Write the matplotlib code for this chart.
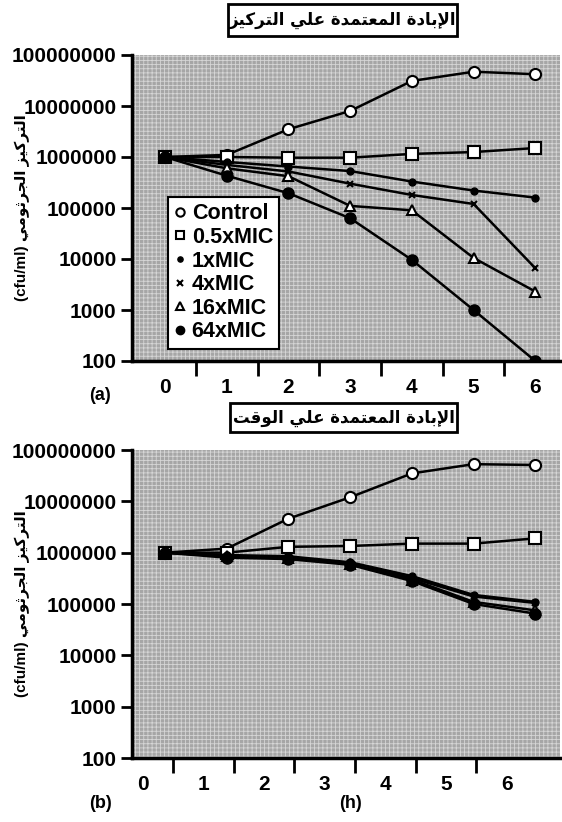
import matplotlib
matplotlib.use("Agg")
import matplotlib.pyplot as plt
from matplotlib.lines import Line2D
from matplotlib.patches import Rectangle

# --- Data ---
hours = [0, 1, 2, 3, 4, 5, 6]
series_names = ["Control", "0.5xMIC", "1xMIC", "4xMIC", "16xMIC", "64xMIC"]

# (a) concentration dependent killing
a_control = [1e6, 1.1e6, 3.5e6, 8e6, 3.1e7, 4.7e7, 4.2e7]
a_half = [1e6, 1e6, 9.7e5, 9.7e5, 1.15e6, 1.25e6, 1.5e6]
a_1x = [1e6, 8e5, 6.5e5, 5.3e5, 3.3e5, 2.2e5, 1.6e5]
a_4x = [1e6, 7e5, 5.2e5, 3e5, 1.8e5, 1.2e5, 6.6e3]
a_16x = [1e6, 6e5, 4.2e5, 1.1e5, 9e4, 1.05e4, 2.3e3]
a_64x = [1e6, 4.3e5, 1.95e5, 6.3e4, 9.6e3, 1e3, 1e2]

# (b) time dependent killing
b_control = [1e6, 1.2e6, 4.6e6, 1.2e7, 3.5e7, 5.3e7, 5.1e7]
b_half = [1e6, 1e6, 1.3e6, 1.35e6, 1.5e6, 1.5e6, 1.9e6]
b_1x = [1e6, 9e5, 8.5e5, 6.5e5, 3.5e5, 1.5e5, 1.1e5]
b_4x = [1e6, 8.7e5, 8e5, 6.2e5, 3.2e5, 1.4e5, 1.05e5]
b_16x = [1e6, 8.5e5, 7.8e5, 6e5, 3e5, 1.1e5, 7.5e4]
b_64x = [1e6, 8e5, 7.5e5, 5.8e5, 2.8e5, 1e5, 6.5e4]

y_ticks = [1e2, 1e3, 1e4, 1e5, 1e6, 1e7, 1e8]
y_ticklabels = ["100", "1000", "10000", "100000", "1000000", "10000000", "100000000"]
x_ticklabels = ["0", "1", "2", "3", "4", "5", "6"]

title_a = "الإبادة المعتمدة علي التركيز"
title_b = "الإبادة المعتمدة علي الوقت"
ylabel_ar = "التركيز الجرثومي"
ylabel_unit = "(cfu/ml)"

# --- Minimal Arabic shaping (presentation forms, visual order) ---
FORMS = {  # isolated, final, initial, medial
    'ا': ('\uFE8D', '\uFE8E', None, None),
    'إ': ('\uFE87', '\uFE88', None, None),
    'ب': ('\uFE8F', '\uFE90', '\uFE91', '\uFE92'),
    'ة': ('\uFE93', '\uFE94', None, None),
    'ت': ('\uFE95', '\uFE96', '\uFE97', '\uFE98'),
    'ث': ('\uFE99', '\uFE9A', '\uFE9B', '\uFE9C'),
    'ج': ('\uFE9D', '\uFE9E', '\uFE9F', '\uFEA0'),
    'د': ('\uFEA9', '\uFEAA', None, None),
    'ر': ('\uFEAD', '\uFEAE', None, None),
    'ز': ('\uFEAF', '\uFEB0', None, None),
    'ع': ('\uFEC9', '\uFECA', '\uFECB', '\uFECC'),
    'ق': ('\uFED5', '\uFED6', '\uFED7', '\uFED8'),
    'ك': ('\uFED9', '\uFEDA', '\uFEDB', '\uFEDC'),
    'ل': ('\uFEDD', '\uFEDE', '\uFEDF', '\uFEE0'),
    'م': ('\uFEE1', '\uFEE2', '\uFEE3', '\uFEE4'),
    'و': ('\uFEED', '\uFEEE', None, None),
    'ي': ('\uFEF1', '\uFEF2', '\uFEF3', '\uFEF4'),
}
LAM_ALEF = {'ا': ('\uFEFB', '\uFEFC'), 'إ': ('\uFEF9', '\uFEFA')}


def shape_word(word):
    letters = []
    i = 0
    while i < len(word):
        if word[i] == 'ل' and i + 1 < len(word) and word[i + 1] in LAM_ALEF:
            letters.append(('LA', word[i + 1]))
            i += 2
        else:
            letters.append((word[i], None))
            i += 1
    out = []
    for k, (c, a) in enumerate(letters):
        prev = letters[k - 1][0] if k > 0 else None
        prev_joins = prev is not None and prev != 'LA' and FORMS[prev][2] is not None
        if c == 'LA':
            out.append(LAM_ALEF[a][1 if prev_joins else 0])
            continue
        f = FORMS[c]
        can_next = f[2] is not None and k + 1 < len(letters)
        if prev_joins and can_next:
            out.append(f[3])
        elif prev_joins:
            out.append(f[1])
        elif can_next:
            out.append(f[2])
        else:
            out.append(f[0])
    return ''.join(out)[::-1]


def arabic(text):
    return ' '.join(shape_word(w) for w in text.split(' ')[::-1])


FAM = ['Liberation Sans', 'DejaVu Sans']
plt.rcParams['font.family'] = FAM
plt.rcParams['font.weight'] = 'bold'
plt.rcParams['hatch.linewidth'] = 0.6

W, H = 562, 822
fig = plt.figure(figsize=(W / 100, H / 100), dpi=100)

styles = [
    dict(marker='o', ms=8, mfc='white', mec='black', mew=1.5),
    dict(marker='s', ms=8, mfc='white', mec='black', mew=1.5),
    dict(marker='o', ms=5, mfc='black', mec='black'),
    dict(marker='x', ms=5, mec='black', mew=1.5),
    dict(marker='^', ms=7, mfc='white', mec='black', mew=1.5),
    dict(marker='o', ms=8, mfc='black', mec='black'),
]


def setup_axes(rect, label_shift, label_step):
    ax = fig.add_axes(rect)
    ax.set_facecolor('#a6a6a6')
    ax.add_patch(Rectangle((0, 0), 1, 1, transform=ax.transAxes, facecolor='none',
                           edgecolor='#d6d6d6', hatch='++++', lw=0, zorder=0))
    ax.set_yscale('log')
    ax.set_ylim(1e2, 1e8)
    ax.set_xlim(-0.535, 6.4)
    ax.set_yticks(y_ticks)
    ax.set_yticklabels(y_ticklabels)
    ax.minorticks_off()
    xt = [label_shift + label_step * i for i in range(7)]
    ax.set_xticks(xt)
    ax.set_xticklabels(x_ticklabels)
    ax.set_xticks([(xt[i] + xt[i + 1]) / 2 for i in range(6)], minor=True)
    ax.tick_params(axis='y', direction='out', length=8, width=2, labelsize=15, pad=3)
    ax.tick_params(axis='x', which='major', length=0, labelsize=15, pad=12)
    ax.tick_params(axis='x', which='minor', direction='out', length=11, width=2)
    for s in ['top', 'right']:
        ax.spines[s].set_visible(False)
    for s in ['left', 'bottom']:
        ax.spines[s].set_linewidth(2.5)
    return ax


def draw(ax, data):
    for vals, st in zip(data, styles):
        ax.plot(hours, vals, color='black', lw=1.8, zorder=3, **st)


# panel a
ax_a = setup_axes([132 / W, 1 - 361 / H, 428 / W, 306 / H], 0.0, 1.0)
draw(ax_a, [a_control, a_half, a_1x, a_4x, a_16x, a_64x])
handles = [Line2D([], [], linestyle='none', color='black', **dict(st, ms=st['ms'] * 0.75))
           for st in styles]
leg = ax_a.legend(handles, series_names, loc='upper left', bbox_to_anchor=(0.084, 0.536),
                  borderaxespad=0, fancybox=False, framealpha=1, edgecolor='black',
                  prop={'size': 15.5, 'weight': 'bold'}, handlelength=0.5, handletextpad=0.3,
                  labelspacing=0.12, borderpad=0.3)
leg.get_frame().set_linewidth(1.5)
leg.set_zorder(5)

# panel b (its axis labels sit left of the points in the original)
ax_b = setup_axes([132 / W, 1 - 758 / H, 428 / W, 308 / H], -0.36, 0.983)
draw(ax_b, [b_control, b_half, b_1x, b_4x, b_16x, b_64x])

# title boxes
for (x0, y0, w, h), title in [((228, 4, 229, 32), title_a), ((230, 403, 227, 29), title_b)]:
    fig.patches.append(Rectangle((x0 / W, 1 - (y0 + h) / H), w / W, h / H,
                                 transform=fig.transFigure, facecolor='white',
                                 edgecolor='black', lw=2))
    fig.text((x0 + w / 2) / W, 1 - (y0 + h / 2) / H, arabic(title), ha='center',
             va='center', fontsize=12, fontweight='bold', family=['DejaVu Sans'])

# y labels
ylab = ylabel_unit + ' ' + arabic(ylabel_ar)
for yc in [(55 + 361) / 2, (450 + 758) / 2]:
    fig.text(22 / W, 1 - yc / H, ylab, rotation=90, ha='center', va='center',
             fontsize=11, fontweight='bold')

fig.text(100 / W, 1 - 395 / H, "(a)", ha='center', va='center', fontsize=13)
fig.text(100 / W, 1 - 803 / H, "(b)", ha='center', va='center', fontsize=13)
fig.text(350 / W, 1 - 803 / H, "(h)", ha='center', va='center', fontsize=13)

fig.savefig('out.png', dpi=100)
